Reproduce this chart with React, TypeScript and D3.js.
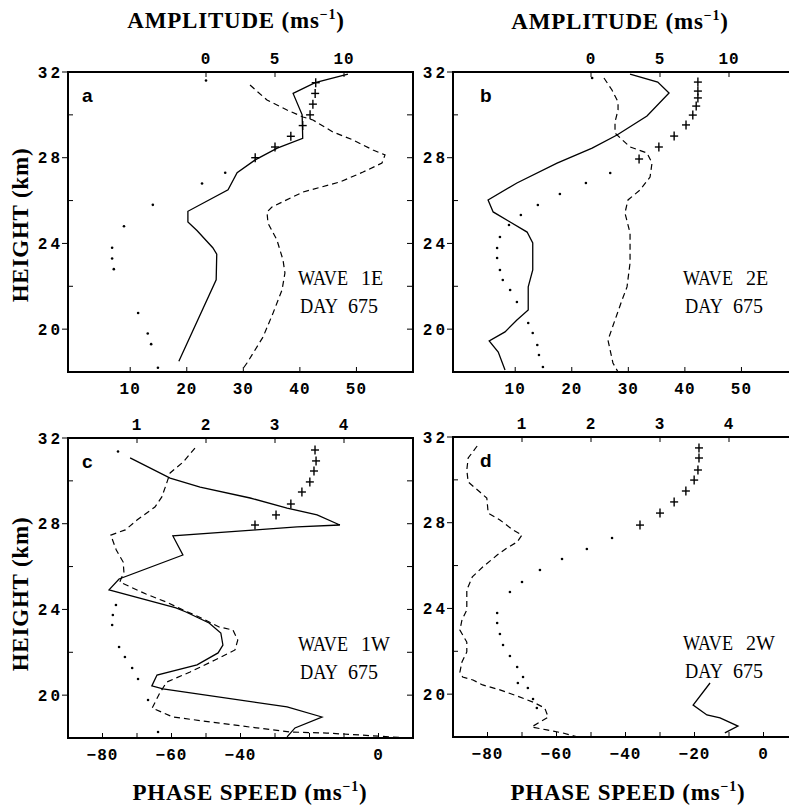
import React from 'react'
import * as d3 from 'd3'

// [height km, value]
type Pt = [number, number]

const HEIGHT_DOMAIN: [number, number] = [18, 32]
const HEIGHT_LABELS = [32, 28, 24, 20]
const HEIGHT_MINOR = [30, 26, 22]

const AMP_E_DOMAIN: [number, number] = [-10, 15]
const AMP_E_TICKS = [0, 5, 10]
const PHASE_E_DOMAIN: [number, number] = [-1, 60]
const PHASE_E_TICKS = [10, 20, 30, 40, 50]

const AMP_W_DOMAIN: [number, number] = [0, 5]
const AMP_W_TICKS = [1, 2, 3, 4]
const PHASE_W_DOMAIN: [number, number] = [-90, 10]
const PHASE_C_TICKS = [-80, -60, -40, 0]
const PHASE_D_TICKS = [-80, -60, -40, -20, 0]
const PHASE_W_MINOR = [-80, -70, -60, -50, -40, -30, -20, -10, 0]

// wave 1E (phase speed: solid, dotted, plus; amplitude: dashed)
const solid1E: Pt[] = [[31.9, 48.5], [31.5, 42.7], [31.0, 38.8], [30.0, 40.4], [28.9, 40.5], [28.45, 36.0], [27.9, 32.1], [27.3, 28.9], [26.5, 27.3], [25.5, 20.2], [25.0, 20.2], [24.6, 21.8], [23.8, 24.6], [23.5, 25.3], [22.3, 25.2], [18.5, 18.6]]
const dashed1E: Pt[] = [[31.39, 3.19], [30.69, 4.42], [30.23, 5.87], [29.9, 7.03], [29.76, 7.75], [29.2, 9.2], [28.83, 10.65], [28.36, 12.1], [28.13, 12.97], [27.75, 12.75], [27.33, 11.38], [26.87, 9.71], [26.4, 7.03], [25.7, 4.78], [25.47, 4.42], [24.95, 4.49], [24.16, 5.14], [23.23, 5.58], [22.62, 5.72], [21.83, 5.51], [20.75, 4.86], [19.63, 4.13], [18.42, 2.97], [18.09, 2.61]]
const dotted1E: Pt[] = [[31.6, 23.4], [27.3, 26.8], [26.8, 22.7], [25.8, 14.0], [24.8, 8.9], [23.8, 6.8], [23.3, 6.8], [22.8, 7.1], [20.75, 11.4], [19.8, 13.1], [19.3, 13.7], [18.2, 14.9]]
const plus1E: Pt[] = [[31.5, 42.8], [31.0, 42.7], [30.5, 42.3], [30.0, 41.8], [29.5, 40.5], [29.0, 38.4], [28.5, 35.6], [28.0, 32.1]]

// wave 2E
const solid2E: Pt[] = [[31.9, 30.3], [31.53, 35.2], [31.02, 37.2], [29.95, 33.3], [29.06, 28.0], [28.45, 23.6], [27.75, 17.4], [26.82, 10.3], [26.03, 5.2], [25.47, 6.1], [25.0, 9.1], [24.53, 12.1], [24.02, 13.1], [22.76, 13.1], [21.97, 12.3], [20.89, 12.3], [20.43, 10.3], [19.87, 8.2], [19.45, 5.4], [18.93, 7.0], [18.09, 8.2]]
const dashed2E: Pt[] = [[31.72, 0.94], [31.16, 1.52], [30.6, 1.96], [30.23, 1.96], [29.67, 1.74], [29.15, 1.74], [28.5, 2.83], [28.22, 4.06], [27.75, 4.42], [27.1, 4.28], [26.49, 3.55], [26.03, 2.68], [25.42, 2.46], [24.49, 2.83], [23.09, 2.83], [21.97, 2.61], [21.36, 2.25], [20.43, 1.74], [19.49, 1.23], [18.42, 1.59], [18.0, 1.96]]
const dotted2E: Pt[] = [[31.72, 23.6], [27.29, 26.8], [26.82, 22.5], [26.31, 17.9], [25.79, 14.0], [25.33, 11.0], [24.86, 8.9], [24.3, 7.3], [23.79, 6.8], [23.32, 6.8], [22.76, 7.3], [22.29, 7.8], [21.83, 9.1], [21.27, 10.3], [20.29, 12.3], [19.82, 13.1], [19.26, 13.9], [18.79, 14.2], [18.23, 14.9]]
const plus2E: Pt[] = [[31.53, 42.3], [31.11, 42.3], [30.79, 42.3], [30.41, 42.0], [29.99, 41.4], [29.53, 40.2], [29.01, 38.1], [28.5, 35.4], [27.94, 31.9]]

// wave 1W
const solid1W: Pt[] = [[31.07, -72.0], [30.13, -60.4], [29.71, -51.7], [29.2, -37.2], [28.73, -26.5], [28.41, -17.8], [27.94, -11.2], [27.85, -23.6], [27.71, -35.5], [27.43, -59.6], [26.54, -56.7], [25.42, -75.2], [24.91, -78.1], [24.07, -58.7], [23.88, -55.8], [23.37, -49.1], [22.9, -45.7], [22.34, -45.1], [21.97, -46.5], [21.41, -52.6], [20.94, -64.2], [20.43, -65.7], [20.29, -62.5], [19.45, -26.5], [18.98, -16.4], [18.47, -24.2], [18.05, -26.5]]
const dashed1W: Pt[] = [[31.53, 1.84], [30.88, 1.67], [30.37, 1.48], [29.71, 1.41], [29.25, 1.36], [28.78, 1.26], [28.17, 1.0], [27.71, 0.83], [27.47, 0.62], [26.77, 0.7], [26.21, 0.8], [25.75, 0.81], [25.28, 0.75], [24.91, 1.0], [24.72, 1.13], [24.35, 1.42], [23.97, 1.67], [23.65, 1.9], [23.18, 2.19], [23.04, 2.39], [22.57, 2.46], [22.11, 2.42], [21.64, 2.13], [21.08, 1.77], [20.61, 1.43], [20.1, 1.33], [19.4, 1.22], [18.98, 1.52], [18.75, 2.06], [18.51, 2.64], [18.28, 3.22], [18.23, 3.75], [18.14, 4.23], [18.05, 4.67], [18.0, 5.0]]
const dotted1W: Pt[] = [[31.37, -75.5], [24.21, -76.1], [23.74, -77.0], [23.27, -77.2], [22.25, -75.2], [21.78, -73.5], [21.27, -71.4], [20.75, -69.7], [19.77, -66.8], [18.28, -63.9]]
const plus1W: Pt[] = [[31.44, -18.4], [30.93, -18.1], [30.46, -18.7], [29.95, -19.9], [29.48, -22.2], [28.92, -25.4], [28.41, -29.7], [27.94, -35.8]]

// wave 2W
const solid2W: Pt[] = [[20.52, -15.5], [19.49, -20.4], [19.03, -16.4], [18.89, -12.6], [18.51, -7.4], [18.19, -11.2]]
const dashed2W: Pt[] = [[31.58, 0.35], [31.02, 0.22], [30.46, 0.2], [29.9, 0.22], [29.43, 0.39], [29.15, 0.49], [28.45, 0.51], [28.13, 0.68], [27.66, 0.87], [27.43, 1.0], [27.1, 0.93], [26.82, 0.78], [26.49, 0.64], [25.93, 0.43], [25.47, 0.28], [24.86, 0.2], [23.93, 0.2], [23.46, 0.13], [22.99, 0.1], [22.43, 0.2], [21.97, 0.2], [21.5, 0.13], [21.03, 0.1], [20.8, 0.14], [20.66, 0.29], [20.43, 0.43], [20.2, 0.68], [19.91, 0.93], [19.63, 1.16], [19.35, 1.33], [18.93, 1.38], [18.7, 1.26], [18.47, 1.14], [18.33, 1.36], [18.19, 1.59], [18.0, 1.81]]
const dotted2W: Pt[] = [[27.29, -43.9], [26.77, -51.2], [26.31, -58.4], [25.79, -64.8], [25.23, -70.0], [24.77, -73.5], [23.79, -77.2], [23.32, -77.2], [22.81, -76.4], [22.29, -75.5], [21.78, -73.5], [21.27, -71.4], [20.8, -69.7], [20.52, -71.2], [20.29, -68.3], [19.77, -66.8], [19.35, -65.7]]
const plus2W: Pt[] = [[31.49, -18.7], [31.02, -18.7], [30.46, -19.0], [29.99, -20.1], [29.48, -22.5], [28.97, -25.9], [28.45, -30.0], [27.89, -35.8]]

const W = 345
const H = 300
const TICK_FONT = '"Liberation Mono", "DejaVu Sans Mono", monospace'
const TITLE_FONT = '"Liberation Serif", "DejaVu Serif", serif'

const fmt = (v: number) => (v < 0 ? '\u2212' + Math.abs(v) : String(v))

interface PanelProps {
  letter: string
  wave: string
  left: number
  top: number
  ampDomain: [number, number]
  ampTicks: number[]
  phaseDomain: [number, number]
  phaseTicks: number[]
  phaseMinor: number[]
  solid: Pt[]
  dashed: Pt[]
  dotted: Pt[]
  plus: Pt[]
  rightEdge: boolean
}

function Panel(p: PanelProps) {
  const y = d3.scaleLinear().domain(HEIGHT_DOMAIN).range([p.top + H, p.top])
  const xa = d3.scaleLinear().domain(p.ampDomain).range([p.left, p.left + W])
  const xp = d3.scaleLinear().domain(p.phaseDomain).range([p.left, p.left + W])
  const phaseLine = d3.line<Pt>().x(d => xp(d[1])).y(d => y(d[0]))
  const ampLine = d3.line<Pt>().x(d => xa(d[1])).y(d => y(d[0]))
  const right = p.left + W
  const bottom = p.top + H
  const tx = p.left + 230

  return <g>
    <g stroke="#000" strokeWidth={2} fill="none">
      <line x1={p.left} x2={p.left} y1={p.top - 1} y2={bottom + 1} />
      <line x1={p.left - 1} x2={right} y1={p.top} y2={p.top} />
      <line x1={p.left - 1} x2={right} y1={bottom} y2={bottom} />
      {p.rightEdge && <line x1={right} x2={right} y1={p.top - 1} y2={bottom + 1} />}
    </g>
    <g stroke="#000" strokeWidth={1}>
      {HEIGHT_LABELS.map(h => <line key={'hl' + h} x1={p.left - 6} x2={p.left} y1={y(h)} y2={y(h)} />)}
      {HEIGHT_MINOR.map(h => <line key={'hm' + h} x1={p.left} x2={p.left + 5} y1={y(h)} y2={y(h)} />)}
      {p.rightEdge && [...HEIGHT_LABELS, ...HEIGHT_MINOR].filter(h => h < 32).map(h =>
        <line key={'hr' + h} x1={right - 6} x2={right} y1={y(h)} y2={y(h)} />)}
      {p.ampTicks.map(v => <line key={'at' + v} x1={xa(v)} x2={xa(v)} y1={p.top} y2={p.top + 5} />)}
      {p.phaseMinor.map(v => <line key={'pt' + v} x1={xp(v)} x2={xp(v)} y1={bottom} y2={bottom - 5} />)}
    </g>
    <g fontFamily={TICK_FONT} fontSize={16} fontWeight="bold" fill="#000">
      {HEIGHT_LABELS.map(h => <text key={'yl' + h} x={p.left - 5} y={y(h)} dy="0.35em"
                                    textAnchor="end" letterSpacing={3}>{h}</text>)}
      {p.ampTicks.map(v => <text key={'al' + v} x={xa(v)} y={p.top - 8} textAnchor="middle"
                                 letterSpacing={1}>{fmt(v)}</text>)}
      {p.phaseTicks.map(v => <text key={'pl' + v} x={xp(v)} y={bottom + 22} textAnchor="middle"
                                   letterSpacing={1}>{fmt(v)}</text>)}
    </g>
    <text x={p.left + (p.left < 100 ? 14 : 27)} y={p.top + 30} fontFamily='"Liberation Sans", Arial, sans-serif'
          fontWeight="bold" fontSize={19}>{p.letter}</text>
    <g fontFamily={TITLE_FONT} fontSize={20}>
      <text x={tx} y={p.top + 213} textLength={50} lengthAdjust="spacingAndGlyphs">WAVE</text>
      <text x={tx + 63} y={p.top + 213}>{p.wave}</text>
      <text x={tx + 2} y={p.top + 241} textLength={38} lengthAdjust="spacingAndGlyphs">DAY</text>
      <text x={tx + 50} y={p.top + 241}>675</text>
    </g>
    <g fill="none" stroke="#000">
      <path d={phaseLine(p.solid) || ''} strokeWidth={1.3} />
      <path d={ampLine(p.dashed) || ''} strokeWidth={1.2} strokeDasharray="6,4" />
    </g>
    <g fill="#000">
      {p.dotted.map((d, i) => <circle key={'dt' + i} cx={xp(d[1])} cy={y(d[0])} r={1.3} />)}
    </g>
    <g stroke="#000" strokeWidth={1.4}>
      {p.plus.map((d, i) => {
        const cx = xp(d[1]), cy = y(d[0])
        return <g key={'pp' + i}>
          <line x1={cx - 4} x2={cx + 4} y1={cy} y2={cy} />
          <line x1={cx} x2={cx} y1={cy - 4.5} y2={cy + 4.5} />
        </g>
      })}
    </g>
  </g>
}

function Title({ x, y, text, rotate }: { x: number, y: number, text: string, rotate?: boolean }) {
  return <text x={x} y={y} textAnchor="middle" fontFamily={TITLE_FONT} fontWeight="bold" fontSize={23}
               letterSpacing={0.8} transform={rotate ? `rotate(-90 ${x} ${y})` : undefined}>
    {text}{text.includes('(ms') && <tspan dy={-9} fontSize={14}>{'\u2212'}1</tspan>}
    {text.includes('(ms') && <tspan dy={9}>)</tspan>}
  </text>
}

export default function App() {
  return <div style={{ position: 'absolute', left: 0, top: 0 }}>
    <svg width={789} height={805} style={{ display: 'block', background: '#fff' }}>
      <rect width={789} height={805} fill="#fff" />
      <Title x={236} y={28} text="AMPLITUDE (ms" />
      <Title x={620} y={29} text="AMPLITUDE (ms" />
      <Title x={250} y={800} text="PHASE SPEED (ms" />
      <Title x={628} y={800} text="PHASE SPEED (ms" />
      <Title x={28} y={225} text="HEIGHT (km)" rotate />
      <Title x={28} y={594} text="HEIGHT (km)" rotate />
      <Panel letter="a" wave="1E" left={68} top={72} ampDomain={AMP_E_DOMAIN} ampTicks={AMP_E_TICKS}
             phaseDomain={PHASE_E_DOMAIN} phaseTicks={PHASE_E_TICKS} phaseMinor={PHASE_E_TICKS}
             solid={solid1E} dashed={dashed1E} dotted={dotted1E} plus={plus1E} rightEdge />
      <Panel letter="b" wave="2E" left={453} top={72} ampDomain={AMP_E_DOMAIN} ampTicks={AMP_E_TICKS}
             phaseDomain={PHASE_E_DOMAIN} phaseTicks={PHASE_E_TICKS} phaseMinor={PHASE_E_TICKS}
             solid={solid2E} dashed={dashed2E} dotted={dotted2E} plus={plus2E} rightEdge={false} />
      <Panel letter="c" wave="1W" left={68} top={438} ampDomain={AMP_W_DOMAIN} ampTicks={AMP_W_TICKS}
             phaseDomain={PHASE_W_DOMAIN} phaseTicks={PHASE_C_TICKS} phaseMinor={PHASE_W_MINOR}
             solid={solid1W} dashed={dashed1W} dotted={dotted1W} plus={plus1W} rightEdge />
      <Panel letter="d" wave="2W" left={453} top={437} ampDomain={AMP_W_DOMAIN} ampTicks={AMP_W_TICKS}
             phaseDomain={PHASE_W_DOMAIN} phaseTicks={PHASE_D_TICKS} phaseMinor={PHASE_W_MINOR}
             solid={solid2W} dashed={dashed2W} dotted={dotted2W} plus={plus2W} rightEdge={false} />
    </svg>
  </div>
}
